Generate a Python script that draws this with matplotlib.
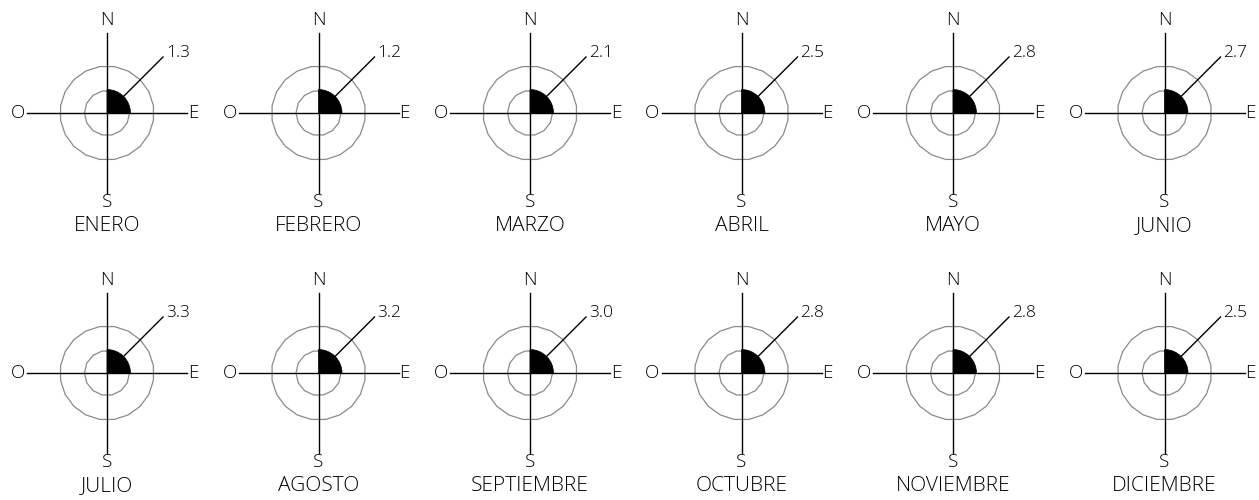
import matplotlib
import numpy as np

matplotlib.use("Agg")
import matplotlib.pyplot as plt
from matplotlib.patches import Wedge, Polygon

plt.rcParams["font.family"] = ["Open Sans", "DejaVu Sans"]

meses = ["ENERO", "FEBRERO", "MARZO", "ABRIL", "MAYO", "JUNIO",
         "JULIO", "AGOSTO", "SEPTIEMBRE", "OCTUBRE", "NOVIEMBRE", "DICIEMBRE"]
velocidad = [1.3, 1.2, 2.1, 2.5, 2.8, 2.7, 3.3, 3.2, 3.0, 2.8, 2.8, 2.5]
rumbos = ["N", "E", "S", "O"]

W, H = 1259, 500
fig = plt.figure(figsize=(W / 100, H / 100), dpi=100)


def kreis_polygon(r, n):
    t = np.linspace(0, 2 * np.pi, n, endpoint=False) + np.pi / n + np.pi / 2
    return np.column_stack([r * np.cos(t), r * np.sin(t)])


for i, (mes, v) in enumerate(zip(meses, velocidad)):
    fila, col = divmod(i, 6)
    cx = 107 + 211.5 * col
    cy = 113 + 260 * fila
    x0, x1 = cx - 105, cx + 105
    ytop, ybot = cy - 113, cy + 135
    ax = fig.add_axes([x0 / W, 1 - ybot / H, (x1 - x0) / W, (ybot - ytop) / H])
    ax.set_xlim(-105, 105)
    ax.set_ylim(-135, 113)
    ax.axis("off")

    # Ringe
    ax.add_patch(Polygon(kreis_polygon(47, 20), closed=True, fill=False, ec="#8a8a8a", lw=0.9))
    ax.add_patch(Polygon(kreis_polygon(22.5, 14), closed=True, fill=False, ec="#8a8a8a", lw=0.9))

    # Sektor NE
    ax.add_patch(Wedge((0, 0), 23.5, 0, 90, fc="black", ec="black", lw=0.5, zorder=3))

    # Achsen
    ax.plot([0, 0], [-80, 80], color="black", lw=1.0, zorder=2)
    ax.plot([-80, 80], [0, 0], color="black", lw=1.0, zorder=2)

    # Fuehrungslinie + Wert
    d = 23.5 / np.sqrt(2)
    ax.plot([d, 56], [d, 56], color="black", lw=1.0, zorder=4)
    ax.text(59, 60, f"{v:.1f}", fontsize=12.5, ha="left", va="center", fontweight="light")

    kw = dict(fontsize=13.5, ha="center", va="center", fontweight="light")
    ax.text(0, 93, rumbos[0], **kw)
    ax.text(86, 0, rumbos[1], **kw)
    ax.text(0, -89, rumbos[2], **kw)
    ax.text(-89, 0, rumbos[3], **kw)

    ax.text(0, -113, mes, fontsize=15, ha="center", va="center", fontweight="light")

fig.savefig("out.png", dpi=100)
